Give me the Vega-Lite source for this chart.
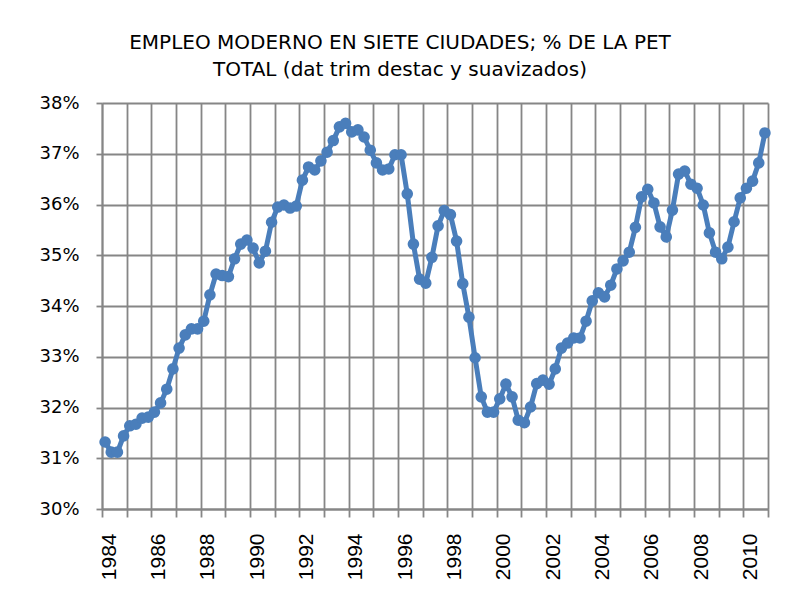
{
  "$schema": "https://vega.github.io/schema/vega-lite/v6.json",
  "width": 666,
  "height": 406,
  "autosize": {"type": "none"},
  "padding": {"left": 102, "top": 103, "right": 20, "bottom": 103},
  "background": "white",
  "title": {
    "text": ["EMPLEO MODERNO EN SIETE CIUDADES; % DE LA PET", "TOTAL (dat trim destac y suavizados)"],
    "font": "DejaVu Sans",
    "fontSize": 20,
    "fontWeight": "normal",
    "color": "#000000",
    "lineHeight": 27,
    "anchor": "middle",
    "dx": -35,
    "offset": 14
  },
  "data": {
    "values": [
      {"t": 1984.125, "v": 31.32}, {"t": 1984.375, "v": 31.12}, {"t": 1984.625, "v": 31.12}, {"t": 1984.875, "v": 31.44},
      {"t": 1985.125, "v": 31.64}, {"t": 1985.375, "v": 31.67}, {"t": 1985.625, "v": 31.79}, {"t": 1985.875, "v": 31.81},
      {"t": 1986.125, "v": 31.91}, {"t": 1986.375, "v": 32.09}, {"t": 1986.625, "v": 32.36}, {"t": 1986.875, "v": 32.76},
      {"t": 1987.125, "v": 33.17}, {"t": 1987.375, "v": 33.43}, {"t": 1987.625, "v": 33.55}, {"t": 1987.875, "v": 33.55},
      {"t": 1988.125, "v": 33.70}, {"t": 1988.375, "v": 34.22}, {"t": 1988.625, "v": 34.63}, {"t": 1988.875, "v": 34.60},
      {"t": 1989.125, "v": 34.58}, {"t": 1989.375, "v": 34.93}, {"t": 1989.625, "v": 35.22}, {"t": 1989.875, "v": 35.30},
      {"t": 1990.125, "v": 35.14}, {"t": 1990.375, "v": 34.85}, {"t": 1990.625, "v": 35.08}, {"t": 1990.875, "v": 35.65},
      {"t": 1991.125, "v": 35.95}, {"t": 1991.375, "v": 35.99}, {"t": 1991.625, "v": 35.93}, {"t": 1991.875, "v": 35.97},
      {"t": 1992.125, "v": 36.48}, {"t": 1992.375, "v": 36.74}, {"t": 1992.625, "v": 36.68}, {"t": 1992.875, "v": 36.86},
      {"t": 1993.125, "v": 37.03}, {"t": 1993.375, "v": 37.26}, {"t": 1993.625, "v": 37.53}, {"t": 1993.875, "v": 37.60},
      {"t": 1994.125, "v": 37.43}, {"t": 1994.375, "v": 37.47}, {"t": 1994.625, "v": 37.33}, {"t": 1994.875, "v": 37.07},
      {"t": 1995.125, "v": 36.82}, {"t": 1995.375, "v": 36.68}, {"t": 1995.625, "v": 36.70}, {"t": 1995.875, "v": 36.98},
      {"t": 1996.125, "v": 36.98}, {"t": 1996.375, "v": 36.21}, {"t": 1996.625, "v": 35.22}, {"t": 1996.875, "v": 34.53},
      {"t": 1997.125, "v": 34.45}, {"t": 1997.375, "v": 34.96}, {"t": 1997.625, "v": 35.58}, {"t": 1997.875, "v": 35.88},
      {"t": 1998.125, "v": 35.80}, {"t": 1998.375, "v": 35.28}, {"t": 1998.625, "v": 34.44}, {"t": 1998.875, "v": 33.78},
      {"t": 1999.125, "v": 32.98}, {"t": 1999.375, "v": 32.21}, {"t": 1999.625, "v": 31.91}, {"t": 1999.875, "v": 31.91},
      {"t": 2000.125, "v": 32.17}, {"t": 2000.375, "v": 32.46}, {"t": 2000.625, "v": 32.21}, {"t": 2000.875, "v": 31.75},
      {"t": 2001.125, "v": 31.70}, {"t": 2001.375, "v": 32.01}, {"t": 2001.625, "v": 32.47}, {"t": 2001.875, "v": 32.54},
      {"t": 2002.125, "v": 32.46}, {"t": 2002.375, "v": 32.76}, {"t": 2002.625, "v": 33.17}, {"t": 2002.875, "v": 33.27},
      {"t": 2003.125, "v": 33.37}, {"t": 2003.375, "v": 33.37}, {"t": 2003.625, "v": 33.70}, {"t": 2003.875, "v": 34.10},
      {"t": 2004.125, "v": 34.26}, {"t": 2004.375, "v": 34.18}, {"t": 2004.625, "v": 34.41}, {"t": 2004.875, "v": 34.73},
      {"t": 2005.125, "v": 34.89}, {"t": 2005.375, "v": 35.06}, {"t": 2005.625, "v": 35.55}, {"t": 2005.875, "v": 36.15},
      {"t": 2006.125, "v": 36.30}, {"t": 2006.375, "v": 36.03}, {"t": 2006.625, "v": 35.56}, {"t": 2006.875, "v": 35.36},
      {"t": 2007.125, "v": 35.89}, {"t": 2007.375, "v": 36.60}, {"t": 2007.625, "v": 36.66}, {"t": 2007.875, "v": 36.40},
      {"t": 2008.125, "v": 36.32}, {"t": 2008.375, "v": 35.99}, {"t": 2008.625, "v": 35.44}, {"t": 2008.875, "v": 35.06},
      {"t": 2009.125, "v": 34.93}, {"t": 2009.375, "v": 35.16}, {"t": 2009.625, "v": 35.66}, {"t": 2009.875, "v": 36.13},
      {"t": 2010.125, "v": 36.32}, {"t": 2010.375, "v": 36.46}, {"t": 2010.625, "v": 36.82}, {"t": 2010.875, "v": 37.41}
    ]
  },
  "mark": {
    "type": "line",
    "color": "#4a7ebb",
    "strokeWidth": 5,
    "point": {"filled": true, "size": 135, "color": "#4a7ebb", "opacity": 1}
  },
  "encoding": {
    "x": {
      "field": "t",
      "type": "quantitative",
      "scale": {"domain": [1984, 2011], "nice": false, "zero": false},
      "axis": {
        "title": null,
        "values": [1984, 1985, 1986, 1987, 1988, 1989, 1990, 1991, 1992, 1993, 1994, 1995, 1996, 1997, 1998, 1999, 2000, 2001, 2002, 2003, 2004, 2005, 2006, 2007, 2008, 2009, 2010, 2011],
        "labelExpr": "datum.value % 2 == 0 ? toString(datum.value) : ''",
        "labelAngle": 270,
        "labelFont": "Liberation Sans",
        "labelFontSize": 21,
        "labelColor": "#000000",
        "labelOffset": 7,
        "labelPadding": 16,
        "labelOverlap": false,
        "labelFlush": false,
        "tickSize": 8,
        "tickColor": "#868686",
        "tickWidth": 1.8,
        "domainColor": "#868686",
        "domainWidth": 1.8,
        "grid": true,
        "gridColor": "#868686",
        "gridWidth": 1.8,
        "gridOpacity": 1
      }
    },
    "y": {
      "field": "v",
      "type": "quantitative",
      "scale": {"domain": [30, 38], "nice": false, "zero": false},
      "axis": {
        "title": null,
        "values": [30, 31, 32, 33, 34, 35, 36, 37, 38],
        "labelExpr": "datum.value + '%'",
        "labelFont": "DejaVu Sans",
        "labelFontSize": 18,
        "labelColor": "#000000",
        "labelPadding": 17,
        "labelFlush": false,
        "tickSize": 6,
        "tickColor": "#868686",
        "tickWidth": 1.8,
        "domainColor": "#868686",
        "domainWidth": 1.8,
        "grid": true,
        "gridColor": "#868686",
        "gridWidth": 1.8,
        "gridOpacity": 1
      }
    }
  },
  "config": {
    "view": {"stroke": null}
  }
}
